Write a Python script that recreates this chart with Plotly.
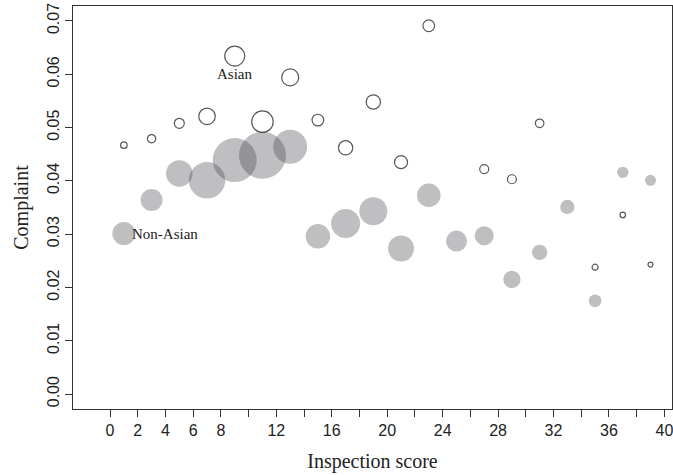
import plotly.graph_objects as go

# ---- data ----
scores = [1, 3, 5, 7, 9, 11, 13, 15, 17, 19, 21, 23, 25, 27, 29, 31, 33, 35, 37, 39]

asian_score = [1, 3, 5, 7, 9, 11, 13, 15, 17, 19, 21, 23, 27, 29, 31, 35, 37, 39]
asian_complaint = [0.0467, 0.0479, 0.0508, 0.0521, 0.0634, 0.0511, 0.0594, 0.0514,
                   0.0462, 0.0548, 0.0435, 0.0691, 0.0422, 0.0403, 0.0508,
                   0.0238, 0.0336, 0.0243]
asian_bubble = [6.5, 8.3, 10, 16.5, 20, 21.5, 17, 11.7, 14.3, 14.3, 13, 11.7,
                9, 9, 8.5, 6, 5.5, 5]

nonasian_complaint = [0.0301, 0.0364, 0.0414, 0.0401, 0.0439, 0.0448, 0.0464, 0.0296,
                      0.0320, 0.0343, 0.0273, 0.0373, 0.0287, 0.0297, 0.0215,
                      0.0266, 0.0351, 0.0175, 0.0416, 0.0401]
nonasian_bubble = [23, 22, 26.5, 36.5, 44, 47, 34, 24.5, 29, 28, 26, 23.5, 21,
                   19, 17.3, 15.3, 14.3, 12.7, 11.3, 11]

x_tickvals = list(range(0, 41, 2))
x_ticklabels = ["0", "2", "4", "6", "8", "", "12", "", "16", "", "20", "", "24", "",
                "28", "", "32", "", "36", "", "40"]
y_tickvals = [0.00, 0.01, 0.02, 0.03, 0.04, 0.05, 0.06, 0.07]

group_labels = ["Asian", "Non-Asian"]
label_x = [9, 4]
label_y = [0.060, 0.030]

serif = "Liberation Serif, Times New Roman, serif"
sans = "Liberation Sans, Arial, sans-serif"
ink = "#222222"
frame = "#333333"

fig = go.Figure()

fig.add_trace(go.Scatter(
    x=scores, y=nonasian_complaint, mode="markers", name="Non-Asian",
    marker=dict(size=nonasian_bubble, color="rgba(55,56,64,0.46)", line=dict(width=0)),
    showlegend=False, hoverinfo="x+y",
))
fig.add_trace(go.Scatter(
    x=asian_score, y=asian_complaint, mode="markers", name="Asian",
    marker=dict(size=asian_bubble, color="rgba(255,255,255,0)",
                line=dict(width=1.2, color="#111111")),
    showlegend=False, hoverinfo="x+y",
))

for t, xx, yy in zip(group_labels, label_x, label_y):
    fig.add_annotation(x=xx, y=yy, text=t, showarrow=False,
                       xanchor="center", yanchor="middle",
                       font=dict(family=serif, size=15, color=ink))

fig.update_layout(
    width=673, height=475,
    margin=dict(l=73, r=1, t=6, b=66),
    paper_bgcolor="white", plot_bgcolor="white",
    xaxis=dict(
        range=[-2.67, 40.55], tickvals=x_tickvals, ticktext=x_ticklabels,
        ticks="outside", ticklen=7, tickcolor=frame, tickwidth=1,
        showline=True, linecolor=frame, linewidth=1, mirror=True,
        showgrid=False, zeroline=False, automargin=False,
        ticklabeloverflow="allow",
        tickfont=dict(family=sans, size=16, color=ink),
        title=dict(text="Inspection score", font=dict(family=serif, size=20, color=ink)),
    ),
    yaxis=dict(
        range=[-0.0028, 0.0728], tickvals=y_tickvals, tickformat=".2f",
        ticks="outside", ticklen=7, tickcolor=frame, tickwidth=1, tickangle=-90,
        showline=True, linecolor=frame, linewidth=1, mirror=True,
        showgrid=False, zeroline=False, automargin=False,
        ticklabeloverflow="allow",
        tickfont=dict(family=sans, size=16, color=ink),
        title=dict(text="Complaint", font=dict(family=serif, size=20, color=ink),
                   standoff=10),
    ),
)

fig.write_html("out.html", config={"displayModeBar": False},
               post_script="document.body.style.margin='0';document.body.style.overflow='hidden';")
